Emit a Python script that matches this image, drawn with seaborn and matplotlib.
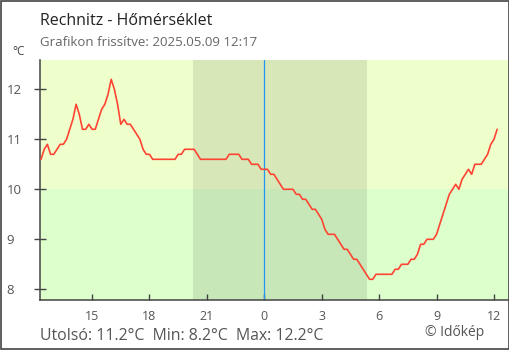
import numpy as np
import pandas as pd
import matplotlib
matplotlib.use("Agg")
import matplotlib.pyplot as plt
from matplotlib.patches import Rectangle
import seaborn as sns

# ---- data (10-minute readings, 2025-05-08 12:20 -> 2025-05-09 12:10) ----
temps = [
    10.6, 10.8, 10.9, 10.7, 10.7, 10.8, 10.9, 10.9, 11.0, 11.2,
    11.4, 11.7, 11.5, 11.2, 11.2, 11.3, 11.2, 11.2, 11.4, 11.6,
    11.7, 11.9, 12.2, 12.0, 11.7, 11.3, 11.4, 11.3, 11.3, 11.2,
    11.1, 11.0, 10.8, 10.7, 10.7, 10.6, 10.6, 10.6, 10.6, 10.6,
    10.6, 10.6, 10.6, 10.7, 10.7, 10.8, 10.8, 10.8, 10.8, 10.7,
    10.6, 10.6, 10.6, 10.6, 10.6, 10.6, 10.6, 10.6, 10.6, 10.7,
    10.7, 10.7, 10.7, 10.6, 10.6, 10.6, 10.5, 10.5, 10.5, 10.4,
    10.4, 10.4, 10.3, 10.3, 10.2, 10.1, 10.0, 10.0, 10.0, 10.0,
    9.9, 9.9, 9.8, 9.8, 9.7, 9.6, 9.6, 9.5, 9.4, 9.2,
    9.1, 9.1, 9.1, 9.0, 8.9, 8.8, 8.8, 8.7, 8.6, 8.6,
    8.5, 8.4, 8.3, 8.2, 8.2, 8.3, 8.3, 8.3, 8.3, 8.3,
    8.3, 8.4, 8.4, 8.5, 8.5, 8.5, 8.6, 8.6, 8.7, 8.9,
    8.9, 9.0, 9.0, 9.0, 9.1, 9.3, 9.5, 9.7, 9.9, 10.0,
    10.1, 10.0, 10.2, 10.3, 10.4, 10.3, 10.5, 10.5, 10.5, 10.6,
    10.7, 10.9, 11.0, 11.2,
]
times = pd.date_range("2025-05-08 12:20", periods=len(temps), freq="10min")
midnight = pd.Timestamp("2025-05-09 00:00")
hours = (times - midnight) / pd.Timedelta(hours=1)

x_ticks = [-9, -6, -3, 0, 3, 6, 9, 12]
x_tick_labels = ["15", "18", "21", "0", "3", "6", "9", "12"]
y_ticks = [8, 9, 10, 11, 12]
night_start, night_end = -3.72, 5.37   # sunset 20:17, sunrise 05:22
x_range = (-11.72, 12.785)
y_range = (7.786, 12.586)

title = "Rechnitz - Hőmérséklet"
subtitle = "Grafikon frissítve: 2025.05.09 12:17"
footer = "Utolsó: 11.2°C  Min: 8.2°C  Max: 12.2°C"
credit = "© Időkép"

df = pd.DataFrame({"hour": hours, "temp": temps})

sns.set_theme(style="white")
plt.rcParams["font.family"] = ["Open Sans", "DejaVu Sans"]

fig = plt.figure(figsize=(5.1, 3.5), dpi=100)
fig.patch.set_facecolor("white")
ax = fig.add_axes([40 / 510, 50 / 350, 469 / 510, 240 / 350])

# background bands
ax.axhspan(10, y_range[1], color="#eeffcc", lw=0, zorder=0)
ax.axhspan(y_range[0], 10, color="#dcffcc", lw=0, zorder=0)
ax.axvspan(night_start, night_end, color="black", alpha=0.095, lw=0, zorder=1)
ax.axvline(0, color="#2196f3", lw=0.9, zorder=2)

sns.lineplot(data=df, x="hour", y="temp", ax=ax, color="#ff4433", lw=1.2, zorder=3)

ax.set_xlim(*x_range)
ax.set_ylim(*y_range)
ax.set_xticks(x_ticks)
ax.set_xticklabels(x_tick_labels)
ax.set_yticks(y_ticks)
ax.set_xlabel("")
ax.set_ylabel("")

for s in ["top", "right"]:
    ax.spines[s].set_visible(False)
for s in ["left", "bottom"]:
    ax.spines[s].set_color("#444444")
    ax.spines[s].set_linewidth(1.1)

ax.tick_params(axis="y", direction="inout", length=9, width=1.0, color="#444444",
               labelsize=9.5, labelcolor="#555555", pad=19.5, left=True)
for lab in ax.get_yticklabels():
    lab.set_horizontalalignment("left")
ax.tick_params(axis="x", direction="in", length=4.5, width=1.0, color="#444444",
               labelsize=9, labelcolor="#555555", pad=7, bottom=True)

fig.text(40 / 510, 1 - 25 / 350, title, fontsize=11.5, color="#222222", va="baseline")
fig.text(40 / 510, 1 - 45.7 / 350, subtitle, fontsize=9.5, color="#666666", va="baseline")
fig.text(12.5 / 510, 1 - 55 / 350, "°C", fontsize=8.5, color="#444444", va="baseline")
fig.text(40 / 510, 10 / 350, footer, fontsize=11.4, color="#555555", va="baseline")
fig.text(425 / 510, 14 / 350, credit, fontsize=10, color="#555555", va="baseline")

fig.add_artist(Rectangle((0.001, 0.0015), 0.997, 0.996, fill=False, ec="#444444",
                         lw=1.2, transform=fig.transFigure))

fig.savefig("out.png", dpi=100)
